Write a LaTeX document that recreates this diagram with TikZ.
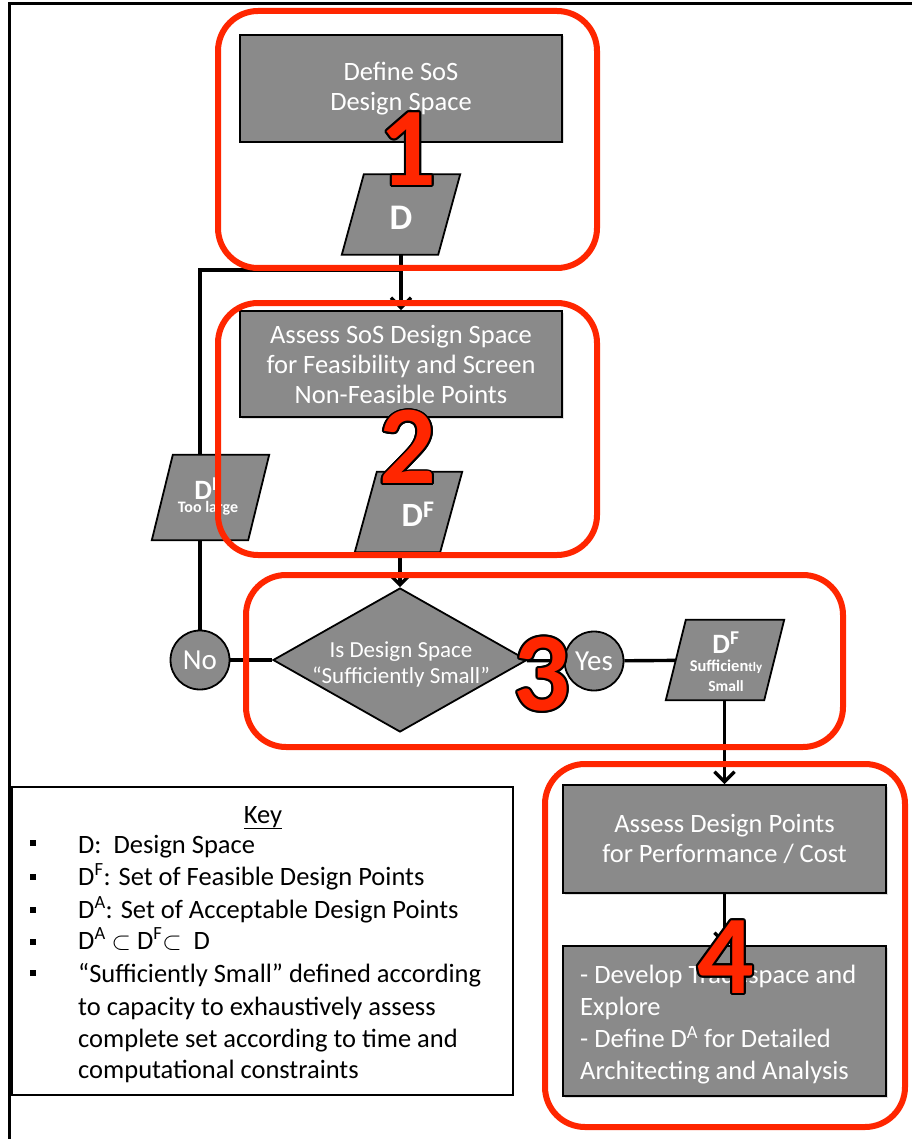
\documentclass[tikz,border=0pt]{standalone}
\usepackage{fontspec}
\setmainfont{Carlito}
\usepackage[copies]{contour}
\contourlength{1.8pt}
\usetikzlibrary{shapes.geometric,arrows.meta,shadows}
\definecolor{boxgray}{RGB}{138,138,138}
\definecolor{hlred}{RGB}{255,38,0}
\newcommand{\drawpara}[2]{%
  \draw[parashape] ([xshift=#2]#1.north west) -- ([xshift=#2]#1.north east)
    -- ([xshift=-#2]#1.south east) -- ([xshift=-#2]#1.south west) -- cycle;}
\begin{document}
\begin{tikzpicture}[x=1pt,y=-1pt,
  graybox/.style={draw=black, line width=1.8pt, fill=boxgray, text=white, align=center,
    inner sep=0pt, font=\fontsize{26.5}{30}\selectfont,
    drop shadow={opacity=0.25, shadow xshift=1.5pt, shadow yshift=-1.5pt}},
  parabox/.style={rectangle, inner sep=0pt, minimum height=80pt},
  parashape/.style={draw=black, line width=1.8pt, fill=boxgray, line join=miter},
  circ/.style={circle, draw=black, line width=1.8pt, fill=boxgray, text=white,
    minimum size=59pt, inner sep=0pt, font=\fontsize{29}{29}\selectfont},
  wtxt/.style={text=white, inner sep=0pt, align=center},
  conn/.style={draw=black, line width=3.4pt},
  arr/.style={-{Straight Barb[length=10pt,width=20pt,line width=3.4pt]}},
  hl/.style={draw=hlred, line width=6pt, rounded corners=40pt},
  num/.style={text=hlred, inner sep=0pt, font=\fontsize{112}{112}\selectfont\bfseries},
  keytext/.style={anchor=base west, inner sep=0pt, font=\fontsize{26.5}{32}\selectfont},
  bullet/.style={fill=black, inner sep=0pt, minimum size=6.5pt}
]
\useasboundingbox (0,0) rectangle (912,1139);

% outer frame (top and left edges)
\draw[line width=2.8pt] (9.5,1139) -- (9.5,3.5) -- (912,3.5);

% --- step 1
\node[graybox, minimum width=322pt, minimum height=107pt] (b1) at (401,88.5) {Define SoS\\Design Space};
\node[parabox, minimum width=96pt] (D) at (401,214.5) {};
\drawpara{D}{11pt}
\node[wtxt, font=\fontsize{36}{36}\selectfont\bfseries] (Dt) at (401,218) {D};

% --- loop line
\coordinate (j) at (401,270);
\node[circ] (no) at (200,660) {No};
\draw[conn] (no.north) |- (j);
\node[parabox, minimum width=96pt, minimum height=85pt] (DTL) at (210.5,497.5) {};
\drawpara{DTL}{10.5pt}
\node[wtxt, font=\fontsize{28}{28}\selectfont\bfseries] (DTLt) at (208,489) {D\textsuperscript{F}};
\node[wtxt, font=\fontsize{16}{16}\selectfont\bfseries] (DTLs) at (208,508) {Too large};

% --- step 2
\node[graybox, minimum width=322pt, minimum height=106pt] (b2) at (401,364) {Assess SoS Design Space\\for Feasibility and Screen\\Non-Feasible Points};
\draw[conn, arr] (D.south) -- (b2.north);
\node[parabox, minimum width=85pt] (DF) at (408.5,512) {};
\drawpara{DF}{11pt}
\node[wtxt, font=\fontsize{34}{34}\selectfont\bfseries] (DFt) at (418,514) {D\textsuperscript{F}};

% --- step 3
\node[diamond, draw=black, line width=1.8pt, fill=boxgray, minimum width=254pt, minimum height=144pt, inner sep=0pt] (dia) at (400,660) {};
\node[wtxt, font=\fontsize{23}{26}\selectfont] (diat) at (401,664) {Is Design Space\\“Sufficiently Small”};
\draw[conn, arr] (dia.north |- DF.south) -- (dia.north);
\draw[conn] (no) -- (dia);
\node[circ] (yes) at (594,661) {Yes};
\draw[conn] (dia) -- (yes);
\node[parabox, minimum width=98pt] (DFS) at (725,660) {};
\draw[conn] (yes) -- (DFS);
\drawpara{DFS}{10pt}
\node[wtxt, font=\fontsize{28}{28}\selectfont\bfseries] (DFSt) at (726,643) {D\textsuperscript{F}};
\node[wtxt, font=\fontsize{16.5}{16.5}\selectfont\bfseries] (DFSs1) at (726,667) {Sufficien{\fontsize{13}{13}\selectfont tly}};
\node[wtxt, font=\fontsize{15.5}{15.5}\selectfont\bfseries] (DFSs2) at (726,686) {Small};

% --- step 4
\node[graybox, minimum width=323pt, minimum height=108pt] (b4a) at (724.5,839) {Assess Design Points\\for Performance / Cost};
\node[graybox, minimum width=323pt, minimum height=150pt] (b4b) at (724.5,1021) {};
\node[wtxt, anchor=west, align=left, font=\fontsize{26.5}{32}\selectfont] (t4b) at (580,1025)
  {- Develop Tradespace and\\Explore\\- Define D\textsuperscript{A} for Detailed\\Architecting and Analysis};
\draw[conn, arr] (b4a.north |- DFS.south) -- (b4a.north);
\draw[conn, arr] (b4a) -- (b4b);

% --- key
\node[draw=black, line width=1.8pt, minimum width=501pt, minimum height=308pt, inner sep=0pt] (key) at (262.5,941) {};
\node[anchor=base, inner sep=0pt, font=\fontsize{26.5}{32}\selectfont] (keyt) at (263,823) {\underline{Key}};
\node[bullet] (k1) at (33,843) {};
\node[bullet] (k2) at (33,877) {};
\node[bullet] (k3) at (33,910) {};
\node[bullet] (k4) at (33,942) {};
\node[bullet] (k5) at (33,973) {};
\node[keytext] (kt1) at (78,853) {D:\ \ Design Space};
\node[keytext] (kt2) at (78,885) {D\textsuperscript{F}: Set of Feasible Design Points};
\node[keytext] (kt3) at (78,918) {D\textsuperscript{A}: Set of Acceptable Design Points};
\node[keytext] (kt4) at (78,949) {D\textsuperscript{A} $\subset$ D\textsuperscript{F}$\subset$\ \ D};
\node[keytext] (kt5) at (78,982) {“Sufficiently Small” defined according};
\node[keytext] (kt6) at (78,1015) {to capacity to exhaustively assess};
\node[keytext] (kt7) at (78,1047) {complete set according to time and};
\node[keytext] (kt8) at (78,1078) {computational constraints};

% --- red highlight frames
\draw[hl] (218,11) rectangle (597,268);
\draw[hl] (218,303) rectangle (597,555);
\draw[hl] (246,575) rectangle (843,747);
\draw[hl] (545,764) rectangle (905,1127);

% --- step numbers
\node[num] (n1) at (408,150) {\contour{black}{1}};
\node[num] (n2) at (408,448) {\contour{black}{2}};
\node[num] (n3) at (542,675) {\contour{black}{3}};
\node[num] (n4) at (726,958) {\contour{black}{4}};
\end{tikzpicture}
\end{document}
